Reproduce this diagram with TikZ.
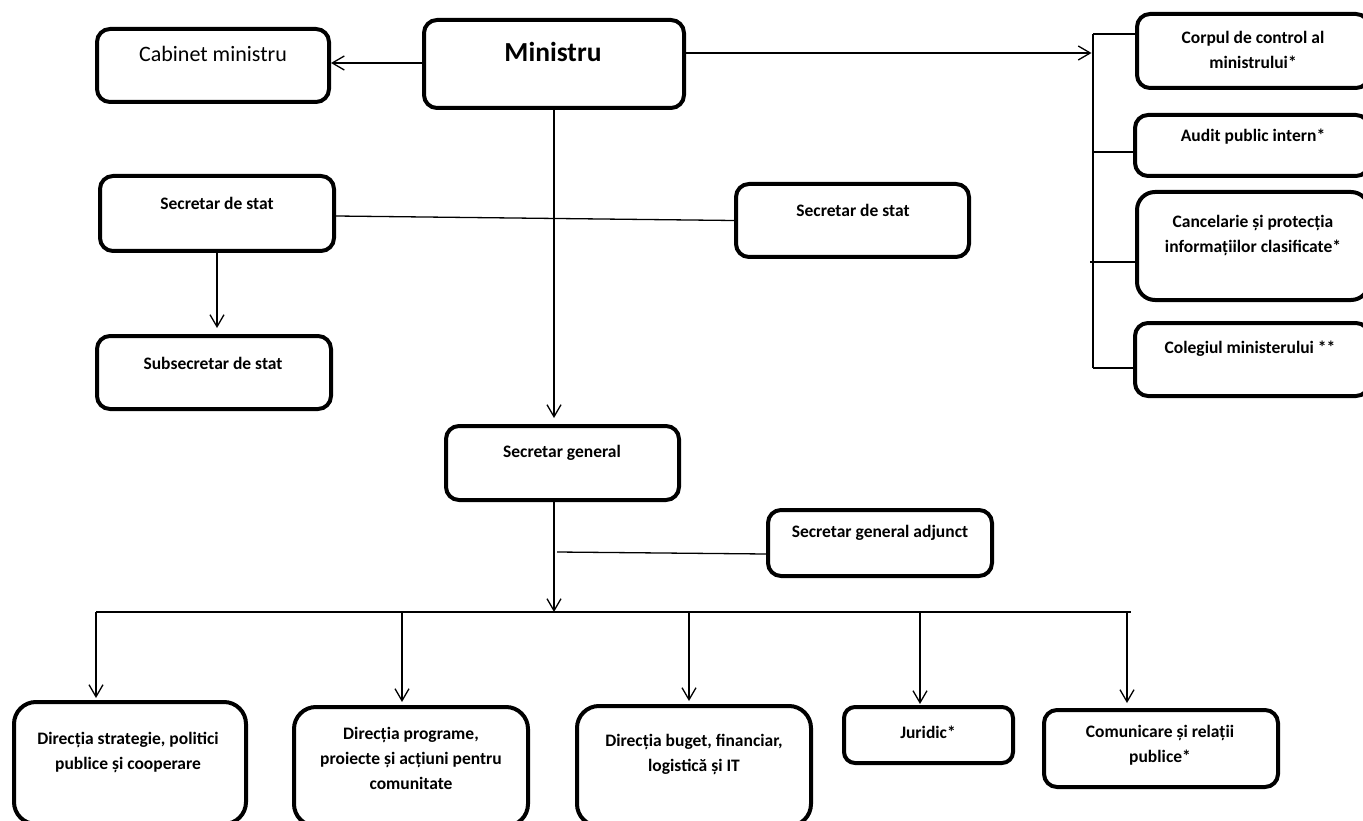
\documentclass[tikz,border=0pt]{standalone}
\usepackage{fontspec}
\setmainfont{Carlito}
\usetikzlibrary{arrows.meta}
\begin{document}
\begin{tikzpicture}[x=1pt,y=-1pt,
  box/.style 2 args={draw, line width=4pt, rounded corners=13pt, minimum width=#1, minimum height=#2, inner sep=0pt},
  lbl/.style={font=\fontsize{17.5}{25}\selectfont\bfseries, align=center, inner sep=0pt},
  conn/.style={line width=1.3pt},
  arr/.style={line width=1.3pt, -{Straight Barb[length=12pt,width=14pt,line width=1.3pt]}}]
\useasboundingbox (0,0) rectangle (1363,821);
\fill[white] (0,0) rectangle (1363,821);
\clip (0,0) rectangle (1363,821);
% boxes
\node[box={232pt}{73pt}] (cab) at (213,65.5) {};
\node[box={260pt}{88pt}] (min) at (554,64) {};
\node[box={232pt}{74pt}] (corp) at (1253,51) {};
\node[box={234pt}{61pt}] (aud) at (1252,145.5) {};
\node[box={232pt}{108pt}, rounded corners=18pt] (canc) at (1253,246) {};
\node[box={234pt}{73pt}] (col) at (1252,359.5) {};
\node[box={234pt}{75pt}] (sdsL) at (217,213.5) {};
\node[box={233pt}{73pt}] (sdsR) at (852.5,220.5) {};
\node[box={234pt}{73pt}] (subs) at (214,372.5) {};
\node[box={233pt}{74pt}] (sg) at (562.5,463) {};
\node[box={224pt}{66pt}] (sga) at (880,543) {};
\node[box={232pt}{122pt}, rounded corners=22pt] (d1) at (130,763) {};
\node[box={234pt}{119pt}, rounded corners=22pt] (d2) at (411,766.5) {};
\node[box={234pt}{120pt}, rounded corners=22pt] (d3) at (694,766) {};
\node[box={169pt}{56pt}, rounded corners=11pt] (jur) at (928.5,735) {};
\node[box={234pt}{77pt}] (com) at (1161,748.5) {};
% texts
\node[lbl, font=\fontsize{22}{26}\selectfont] (cabT) at (213,54) {Cabinet ministru};
\node[lbl, font=\fontsize{27.5}{32}\selectfont\bfseries] (minT) at (553,52) {Ministru};
\node[lbl] (corpT) at (1253,50) {Corpul de control al\\ministrului*};
\node[lbl] (audT) at (1253,137) {Audit public intern*};
\node[lbl] (cancT) at (1253,235.5) {Cancelarie și protecția\\informațiilor clasificate*};
\node[lbl] (colT) at (1250,349) {Colegiul ministerului **};
\node[lbl] (sdsLT) at (217,203) {Secretar de stat};
\node[lbl] (sdsRT) at (853,210) {Secretar de stat};
\node[lbl] (subsT) at (213,363) {Subsecretar de stat};
\node[lbl] (sgT) at (562,453) {Secretar general};
\node[lbl] (sgaT) at (880,533) {Secretar general adjunct};
\node[lbl] (d1T) at (128,752) {Direcția strategie, politici\\publice și cooperare};
\node[lbl] (d2T) at (411,758) {Direcția programe,\\proiecte și acțiuni pentru\\comunitate};
\node[lbl] (d3T) at (694,754.5) {Direcția buget, financiar,\\logistică și IT};
\node[lbl] (jurT) at (928,732) {Juridic*};
\node[lbl] (comT) at (1160,745.5) {Comunicare și relații\\publice*};
% coordinates
\coordinate (brT) at (1093,34);
\coordinate (brB) at (1093,368);
\coordinate (brA) at (1093,53);
\coordinate (sgaJ) at (557,552);
\coordinate (barL) at (96,612);
\coordinate (barR) at (1131,612);
\coordinate (b1) at (96,612);
\coordinate (b2) at (402,612);
\coordinate (b3) at (689,612);
\coordinate (b4) at (920,612);
\coordinate (b5) at (1127,612);
% connectors
\draw[arr] (min.west |- 0,63) -- (cab.east |- 0,63);
\draw[arr] (min.east |- brA) -- ([xshift=-1.5pt]brA);
\draw[conn] (brT) -- (brB);
\draw[conn] (brT) -- (corp.west |- brT);
\draw[conn] (1093,152) -- (aud.west |- 0,152);
\draw[conn] (1090,262) -- (canc.west |- 0,262);
\draw[conn] (brB) -- (col.west |- brB);
\draw[conn] ([yshift=-2.5pt]sdsL.east) -- (sdsR.west);
\draw[arr, shorten >=6pt] (sdsL.south) -- (sdsL.south |- subs.north);
\draw[arr, shorten >=6pt] (min.south) -- (min.south |- sg.north);
\draw[arr] (sg.south -| min.south) -- (min.south |- barL);
\draw[conn] (sgaJ) -- ([yshift=-11pt]sga.west);
\draw[conn] (barL) -- (barR);
\draw[arr, shorten >=2pt] (b1) -- (b1 |- d1.north);
\draw[arr, shorten >=3pt] (b2) -- (b2 |- d2.north);
\draw[arr, shorten >=3pt] (b3) -- (b3 |- d3.north);
\draw[arr, shorten >=1pt] (b4) -- (b4 |- jur.north);
\draw[arr, shorten >=5pt] (b5) -- (b5 |- com.north);
\end{tikzpicture}
\end{document}
